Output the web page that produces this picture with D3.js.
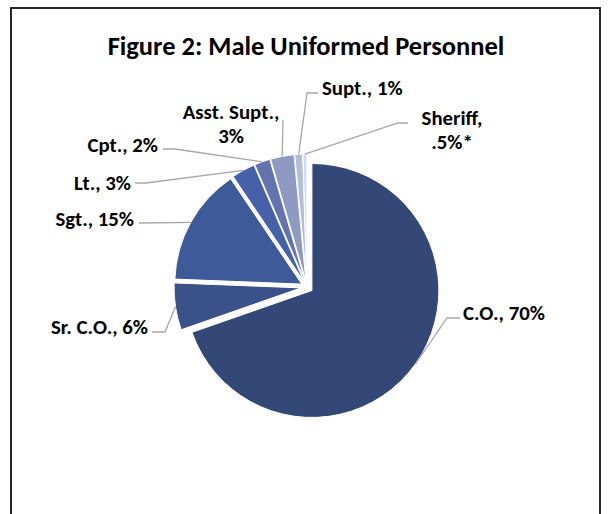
<!DOCTYPE html>
<html>
<head>
<meta charset="utf-8">
<script src="https://cdn.jsdelivr.net/npm/d3@7"></script>
<style>
  body { margin: 0; background: #fff; }
  svg text { font-family: Calibri, Carlito, Lato, "Open Sans", sans-serif; font-weight: bold; fill: #000; }
</style>
</head>
<body>
<svg id="chart" width="608" height="514"></svg>
<script>
// Data
const ranks = ["C.O.", "Sr. C.O.", "Sgt.", "Lt.", "Cpt.", "Asst. Supt.", "Supt.", "Sheriff"];
const shares = [70, 6, 15, 3, 2, 3, 1, 0.5];
const shareLabels = ["70%", "6%", "15%", "3%", "2%", "3%", "1%", ".5%*"];
const colors = ["#334876", "#3a5189", "#3f5a98", "#4661a7", "#6373ad", "#8f9ac3", "#b3bddc", "#d3d9ee"];

const svg = d3.select("#chart");
const width = 608, height = 514;

// Frame
svg.append("rect")
    .attr("x", 11).attr("y", 8)
    .attr("width", 589).attr("height", 540)
    .attr("fill", "none")
    .attr("stroke", "#262626")
    .attr("stroke-width", 2);

svg.append("text")
    .attr("x", 306).attr("y", 55)
    .attr("text-anchor", "middle")
    .style("font-size", "26.5px")
    .text("Figure 2: Male Uniformed Personnel");

// Pie setup
const cx = 307, cy = 287, radius = 127, explode = 6;

const pie = d3.pie().sort(null).value(d => d.value);
const arcs = pie(ranks.map((r, i) => ({ rank: r, value: shares[i], label: shareLabels[i], color: colors[i] })));

const arc = d3.arc().innerRadius(0).outerRadius(radius);

const g = svg.append("g").attr("transform", `translate(${cx},${cy})`);

const mid = d => (d.startAngle + d.endAngle) / 2;

g.selectAll("path")
    .data(arcs)
    .join("path")
    .attr("d", arc)
    .attr("fill", d => d.data.color)
    .attr("stroke", "#fff")
    .attr("stroke-width", 1)
    .attr("transform", d => {
        const a = mid(d);
        return `translate(${explode * Math.sin(a)},${-explode * Math.cos(a)})`;
    });

// Label layout: text position, anchor, and leader line bend points (after the slice point)
const labelLayout = [
    { x: 463, y: 320, anchor: "start", bends: [[447, 318], [460, 318]] },
    { x: 148, y: 334, anchor: "end", bends: [[165, 332], [152, 332]] },
    { x: 134, y: 226, anchor: "end", bends: [[139, 223]] },
    { x: 131, y: 190, anchor: "end", bends: [[146, 183], [135, 183]] },
    { x: 158, y: 152, anchor: "end", bends: [[175, 149], [163, 149]] },
    { x: 231, y: 119, anchor: "middle", bends: [[283, 120]], twoLine: true },
    { x: 322, y: 95, anchor: "start", bends: [[307, 93], [318, 93]] },
    { x: 452, y: 125, anchor: "middle", bends: [[398, 123], [408, 123]], twoLine: true }
];

const line = d3.line();

arcs.forEach((d, i) => {
    const a = mid(d);
    const r = radius + explode;
    const p0 = [cx + r * Math.sin(a), cy - r * Math.cos(a)];
    const lay = labelLayout[i];

    svg.append("path")
        .attr("d", line([p0, ...lay.bends]))
        .attr("fill", "none")
        .attr("stroke", "#a6a6a6")
        .attr("stroke-width", 1.3);

    const t = svg.append("text")
        .attr("x", lay.x).attr("y", lay.y)
        .attr("text-anchor", lay.anchor)
        .style("font-size", "20.8px");
    if (lay.twoLine) {
        t.append("tspan").attr("x", lay.x).text(d.data.rank + ",");
        t.append("tspan").attr("x", lay.x).attr("dy", 24).text(d.data.label);
    } else {
        t.text(d.data.rank + ", " + d.data.label);
    }
});
</script>
</body>
</html>
